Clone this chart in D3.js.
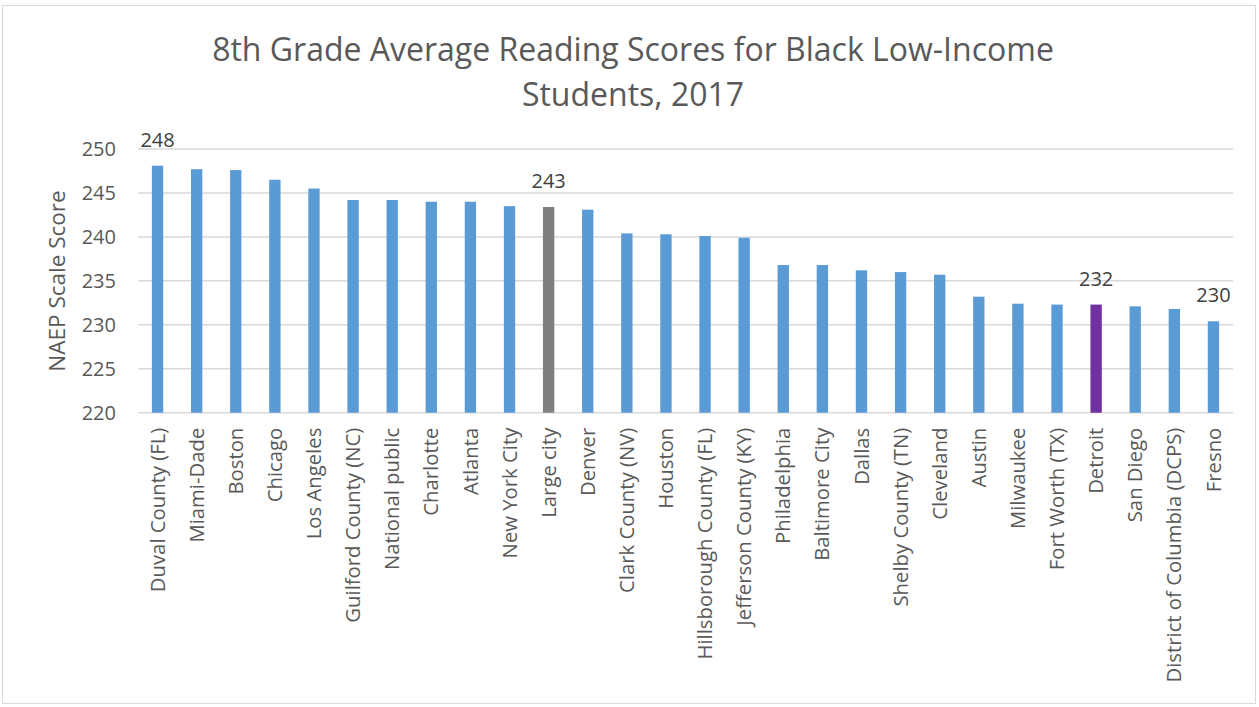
<!DOCTYPE html>
<html><head><meta charset="utf-8">
<script src="https://cdn.jsdelivr.net/npm/d3@7"></script>
<style>body{margin:0;background:#fff}svg{display:block}</style>
</head><body>
<script>
const cats = ["Duval County (FL)","Miami-Dade","Boston","Chicago","Los Angeles","Guilford County (NC)","National public","Charlotte","Atlanta","New York City","Large city","Denver","Clark County (NV)","Houston","Hillsborough County (FL)","Jefferson County (KY)","Philadelphia","Baltimore City","Dallas","Shelby County (TN)","Cleveland","Austin","Milwaukee","Fort Worth (TX)","Detroit","San Diego","District of Columbia (DCPS)","Fresno"];
const scores = [248.1,247.7,247.6,246.5,245.5,244.2,244.2,244.0,244.0,243.5,243.4,243.1,240.4,240.3,240.1,239.9,236.8,236.8,236.2,236.0,235.7,233.2,232.4,232.3,232.3,232.1,231.8,230.4];
const yTicks = [220,225,230,235,240,245,250];
const labeled = {"Duval County (FL)":"248","Large city":"243","Detroit":"232","Fresno":"230"};
const special = {"Large city":"#7f7f7f","Detroit":"#7030a0"};
const title = ["8th Grade Average Reading Scores for Black Low-Income","Students, 2017"];

const W=1259,H=707;
const svg=d3.select("body").append("svg").attr("width",W).attr("height",H);
svg.append("rect").attr("x",2.5).attr("y",5.5).attr("width",1253).attr("height",698).attr("fill","#fff").attr("stroke","#d9d9d9");

const x=d3.scaleBand().domain(cats).range([138,1233]).paddingInner(0.71).paddingOuter(0.355);
const y=d3.scaleLinear().domain([220,250]).range([412.7,149]);

svg.append("g").selectAll("line").data(yTicks).join("line")
 .attr("x1",138).attr("x2",1233).attr("y1",d=>y(d)).attr("y2",d=>y(d))
 .attr("stroke","#d9d9d9").attr("stroke-width",1.5);

const ya=svg.append("g").attr("transform","translate(116,0)").call(d3.axisLeft(y).tickValues(yTicks).tickSize(0).tickPadding(0));
ya.select(".domain").remove();
ya.selectAll("text").attr("font-family","Open Sans").attr("font-size",20).attr("fill","#595959");

svg.append("g").selectAll("rect").data(cats).join("rect")
 .attr("x",d=>x(d)).attr("width",x.bandwidth())
 .attr("y",(d,i)=>y(scores[i])).attr("height",(d,i)=>y(220)-y(scores[i]))
 .attr("fill",d=>special[d]||"#5b9bd5");

svg.append("g").selectAll("text").data(cats.filter(d=>labeled[d])).join("text")
 .attr("x",d=>x(d)+x.bandwidth()/2).attr("y",d=>y(scores[cats.indexOf(d)])-19)
 .attr("text-anchor","middle").attr("font-family","Open Sans").attr("font-size",20).attr("fill","#404040")
 .text(d=>labeled[d]);

const xa=svg.append("g").attr("transform","translate(0,412.7)").call(d3.axisBottom(x).tickSize(0).tickPadding(0));
xa.select(".domain").remove();
xa.selectAll("text").attr("transform","translate(0,15) rotate(-90)").attr("text-anchor","end")
 .attr("dy","0.35em").attr("x",0).attr("y",0)
 .attr("font-family","Open Sans").attr("font-size",20.3).attr("fill","#595959");

svg.append("text").attr("transform","translate(65,281) rotate(-90)").attr("text-anchor","middle")
 .attr("font-family","Open Sans").attr("font-size",22.5).attr("fill","#595959").text("NAEP Scale Score");

svg.append("g").selectAll("text").data(title).join("text")
 .attr("x",633).attr("y",(d,i)=>61+i*45).attr("text-anchor","middle")
 .attr("font-family","Open Sans").attr("font-size",32).attr("fill","#595959").text(d=>d);
</script>
</body></html>
